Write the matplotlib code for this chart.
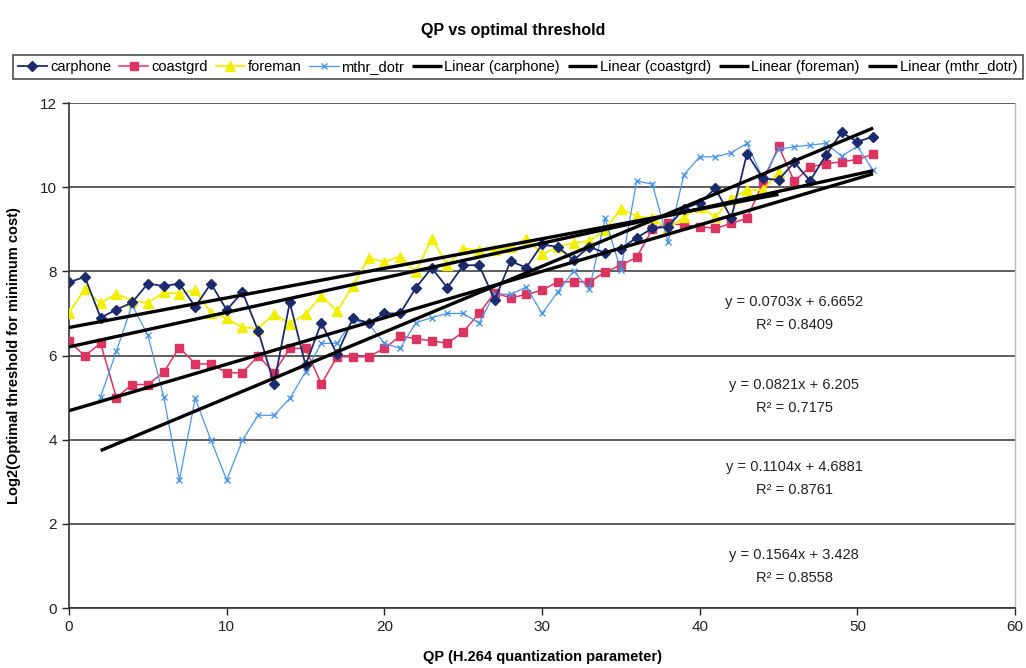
import numpy as np
import matplotlib
matplotlib.use("Agg")
import matplotlib.pyplot as plt

plt.rcParams['font.family'] = ['Liberation Sans', 'DejaVu Sans']

# QP values per sequence
qp_full = list(range(0, 52))
qp_foreman = list(range(0, 46))
qp_mthr = list(range(2, 52))

carphone = [7.74, 7.87, 6.90, 7.09, 7.26, 7.71, 7.65, 7.71, 7.16, 7.71,
            7.08, 7.51, 6.58, 5.33, 7.26, 5.77, 6.78, 6.03, 6.88, 6.78,
            7.00, 7.00, 7.61, 8.08, 7.61, 8.14, 8.15, 7.32, 8.24, 8.09,
            8.64, 8.58, 8.27, 8.58, 8.44, 8.54, 8.80, 9.02, 9.06, 9.49,
            9.63, 9.97, 9.26, 10.80, 10.21, 10.17, 10.59, 10.15, 10.76, 11.30,
            11.08, 11.20]

coastgrd = [6.34, 5.99, 6.29, 5.00, 5.31, 5.31, 5.60, 6.19, 5.80, 5.80,
            5.59, 5.59, 5.99, 5.59, 6.17, 6.17, 5.32, 5.97, 5.97, 5.97,
            6.17, 6.46, 6.40, 6.35, 6.29, 6.56, 7.00, 7.49, 7.37, 7.45,
            7.55, 7.75, 7.75, 7.75, 7.98, 8.15, 8.33, 9.00, 9.14, 9.10,
            9.06, 9.02, 9.14, 9.26, 10.10, 10.97, 10.14, 10.48, 10.56, 10.60,
            10.66, 10.78]

foreman = [7.02, 7.57, 7.24, 7.47, 7.30, 7.25, 7.50, 7.47, 7.55, 7.02,
           6.88, 6.67, 6.64, 6.99, 6.76, 6.98, 7.42, 7.05, 7.66, 8.31,
           8.23, 8.35, 7.99, 8.78, 8.15, 8.54, 8.50, 8.50, 8.57, 8.78,
           8.41, 8.58, 8.68, 8.72, 8.98, 9.49, 9.31, 9.26, 9.02, 9.29,
           9.53, 9.29, 9.73, 9.93, 9.93, 10.36]

mthr_dotr = [5.02, 6.10, 7.20, 6.48, 5.02, 3.04, 4.98, 3.99, 3.04, 3.99,
             4.58, 4.58, 4.98, 5.61, 6.29, 6.29, 6.84, 6.75, 6.29, 6.17,
             6.78, 6.90, 7.00, 7.00, 6.77, 7.47, 7.45, 7.63, 7.00, 7.51,
             8.01, 7.57, 9.26, 8.02, 10.15, 10.07, 8.70, 10.30, 10.72, 10.72,
             10.82, 11.04, 10.21, 10.90, 10.96, 11.00, 11.04, 10.74, 10.97, 10.40]

# Linear trendline coefficients (slope, intercept, R^2)
trend_slopes = [0.0821, 0.1104, 0.0703, 0.1564]
trend_intercepts = [6.205, 4.6881, 6.6652, 3.428]
trend_r2 = [0.7175, 0.8761, 0.8409, 0.8558]
trend_labels = ['Linear (carphone)', 'Linear (coastgrd)', 'Linear (foreman)', 'Linear (mthr_dotr)']

x_ticks = [0, 10, 20, 30, 40, 50, 60]
y_ticks = [0, 2, 4, 6, 8, 10, 12]

fig = plt.figure(figsize=(10.26, 6.68), dpi=100)
ax = fig.add_axes([0.0673, 0.0898, 0.9220, 0.7560])

navy = '#1c2a6e'
red = '#dc3460'
yellow = '#f2ee00'
lblue = '#4a95e6'

series_handles = []
h, = ax.plot(qp_full, carphone, color=navy, lw=1.3, marker='D', ms=5.5,
             mfc=navy, mec=navy, label='carphone', zorder=4)
series_handles.append(h)
h, = ax.plot(qp_full, coastgrd, color=red, lw=1.1, marker='s', ms=5.5,
             mfc=red, mec=red, label='coastgrd', zorder=3)
series_handles.append(h)
h, = ax.plot(qp_foreman, foreman, color=yellow, lw=1.3, marker='^', ms=7,
             mfc=yellow, mec=yellow, label='foreman', zorder=3)
series_handles.append(h)
h, = ax.plot(qp_mthr, mthr_dotr, color=lblue, lw=0.9, marker='x', ms=5,
             mew=1.0, label='mthr_dotr', zorder=3)
series_handles.append(h)

# Trendlines over each series' QP span
spans = [qp_full, qp_full, qp_foreman, qp_mthr]
trend_handles = []
for slope, icpt, span, lab in zip(trend_slopes, trend_intercepts, spans, trend_labels):
    xs = np.array([span[0], span[-1]], dtype=float)
    h, = ax.plot(xs, slope * xs + icpt, color='black', lw=2.4,
                 solid_capstyle='butt', label=lab, zorder=5)
    trend_handles.append(h)

# Trendline equations, listed in order of intercept
eq_order = [2, 0, 1, 3]
eq_y = [7.27, 5.30, 3.35, 1.26]
for idx, yy in zip(eq_order, eq_y):
    ax.text(46.0, yy, f'y = {trend_slopes[idx]}x + {trend_intercepts[idx]}',
            ha='center', va='center', fontsize=10.5, color='#222222', zorder=6)
    ax.text(46.0, yy - 0.55, f'R\u00b2 = {trend_r2[idx]}',
            ha='center', va='center', fontsize=10.5, color='#222222', zorder=6)

ax.set_xlim(0, 60)
ax.set_ylim(0, 12)
ax.set_xticks(x_ticks)
ax.set_yticks(y_ticks)
ax.tick_params(axis='both', direction='out', length=5, width=1.0,
               labelsize=11, colors='#222222')
ax.yaxis.grid(True, color='#333333', lw=1.1)
ax.set_axisbelow(True)
ax.spines['top'].set_visible(False)
ax.spines['right'].set_color('#bbbbbb')
ax.spines['right'].set_linewidth(1.0)
ax.spines['left'].set_color('#333333')
ax.spines['bottom'].set_color('#333333')
ax.spines['left'].set_linewidth(1.2)
ax.spines['bottom'].set_linewidth(1.2)

ax.set_xlabel('QP (H.264 quantization parameter)', fontsize=10.5,
              fontweight='bold', labelpad=12)
ax.set_ylabel('Log2(Optimal threshold for minimum cost)', fontsize=10.5,
              fontweight='bold', labelpad=14)

fig.suptitle('QP vs optimal threshold', fontsize=11.5, fontweight='bold',
             y=0.965)

leg = fig.legend(handles=series_handles + trend_handles, ncol=8,
                 loc='center', bbox_to_anchor=(0.5045, 0.8997),
                 fontsize=10.5, frameon=True, fancybox=False,
                 handlelength=2.0, handletextpad=0.2, columnspacing=0.55,
                 borderpad=0.35, borderaxespad=0.0)
leg.get_frame().set_edgecolor('#222222')
leg.get_frame().set_linewidth(1.2)

fig.savefig('out.png', dpi=100)
